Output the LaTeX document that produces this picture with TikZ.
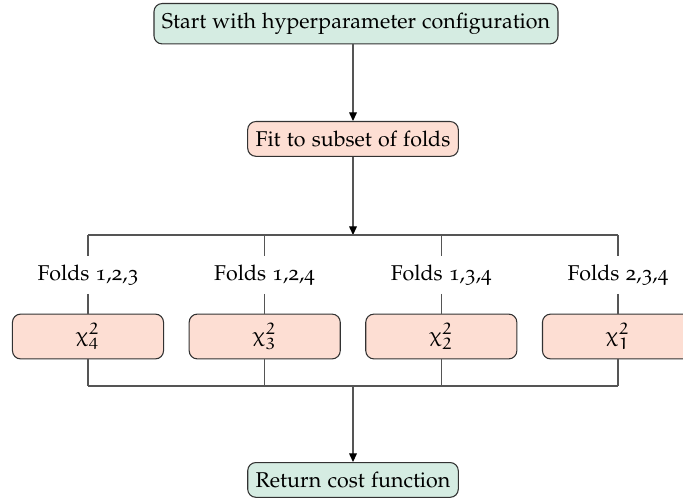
\documentclass[tikz,border=0pt]{standalone}
\usepackage[T1]{fontenc}
\usepackage[osf]{mathpazo}
\DeclareSymbolFont{eulerletters}{U}{eur}{m}{n}
\DeclareSymbolFontAlphabet{\mathE}{eulerletters}
\DeclareMathSymbol{\echi}{\mathord}{eulerletters}{"1F}
\usetikzlibrary{arrows.meta}
\definecolor{boxgreen}{RGB}{213,236,226}
\definecolor{boxpink}{RGB}{253,222,211}
\definecolor{linegray}{RGB}{85,85,85}
\definecolor{edgegray}{RGB}{50,50,50}
\begin{document}
\begin{tikzpicture}[x=0.4673pt,y=-0.4673pt,
  basebox/.style={draw=edgegray, line width=0.5pt, rounded corners=3.8pt, inner xsep=3.7pt, inner ysep=4.4pt},
  greenbox/.style={basebox, fill=boxgreen},
  pinkbox/.style={basebox, fill=boxpink},
  chibox/.style={pinkbox, minimum width=70.6pt, minimum height=18.2pt},
  lbl/.style={inner sep=0pt, minimum height=17.3pt},
  conn/.style={draw=linegray, line width=0.5pt},
  arr/.style={conn, -{Triangle[length=4pt,width=3.6pt,black]}}]
\clip (0,0) rectangle (683,499);
\node[greenbox, anchor=north] (start) at (356,3) {Start with hyperparameter configuration};
\node[pinkbox, anchor=north] (fit) at (353,121) {Fit to subset of folds};
\coordinate (top) at (353,235);
\coordinate (bm) at (353,386);
\draw[arr] (start.south -| fit.north) -- (fit);
\draw[arr] (fit) -- (top);
% branches
\coordinate (t4) at (88,235);
\coordinate (t3) at (264.7,235);
\coordinate (t2) at (441.3,235);
\coordinate (t1) at (618,235);
\coordinate (b4) at (88,386);
\coordinate (b3) at (264.7,386);
\coordinate (b2) at (441.3,386);
\coordinate (b1) at (618,386);
\node[lbl] (f4) at (88,275) {Folds 1,2,3};
\node[lbl] (f3) at (264.7,275) {Folds 1,2,4};
\node[lbl] (f2) at (441.3,275) {Folds 1,3,4};
\node[lbl] (f1) at (618,275) {Folds 2,3,4};
\node[chibox] (c4) at (88,336.5) {$\echi^{\mathE{2}}_{\mathE{4}}$};
\node[chibox] (c3) at (264.7,336.5) {$\echi^{\mathE{2}}_{\mathE{3}}$};
\node[chibox] (c2) at (441.3,336.5) {$\echi^{\mathE{2}}_{\mathE{2}}$};
\node[chibox] (c1) at (618,336.5) {$\echi^{\mathE{2}}_{\mathE{1}}$};
\draw[conn] (t4) -- (t1);
\draw[conn] (b4) -- (b1);
\foreach \i in {1,2,3,4}{
  \draw[conn] (t\i) -- (f\i);
  \draw[conn] (f\i) -- (c\i);
  \draw[conn] (c\i) -- (b\i);
}
\node[greenbox, anchor=north] (ret) at (353,462) {Return cost function};
\draw[arr] (bm) -- (ret);
\end{tikzpicture}
\end{document}
